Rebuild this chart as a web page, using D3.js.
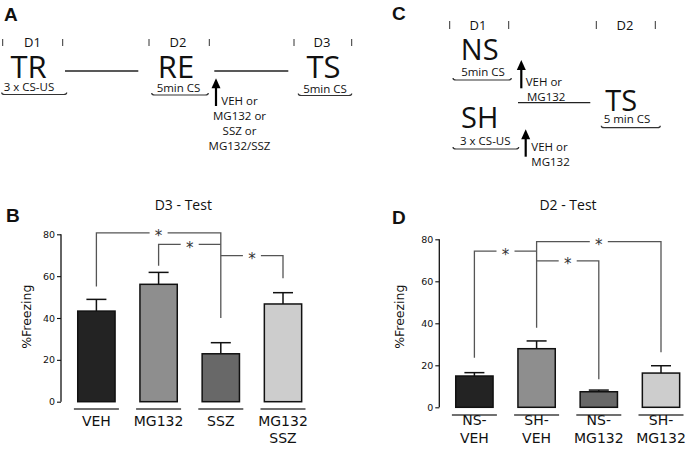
<!DOCTYPE html>
<html><head><meta charset="utf-8">
<script src="https://cdn.jsdelivr.net/npm/d3@7"></script>
<style>body{margin:0;background:#fff}svg{display:block}</style>
</head><body>
<svg id="c" width="686" height="450"></svg>
<script>
// ---------- data ----------
const catsB = ["VEH", "MG132", "SSZ", "MG132/SSZ"];
const labelsB = [["VEH"], ["MG132"], ["SSZ"], ["MG132", "SSZ"]];
const meansB = [43.3, 56.1, 22.9, 46.7];
const semB = [5.6, 5.7, 5.3, 5.4];
const fillsB = ["#232323", "#8e8e8e", "#686868", "#cdcdcd"];
const sigB = [
  {from: 0, to: 2, level: 80.7, fromEnd: 55, toEnd: 40},
  {from: 1, to: 2, level: 75.2, fromEnd: 65, toEnd: 75.2},
  {from: 2, to: 3, level: 69.8, fromEnd: 69.8, toEnd: 59}
];

const catsD = ["NS-VEH", "SH-VEH", "NS-MG132", "SH-MG132"];
const labelsD = [["NS-", "VEH"], ["SH-", "VEH"], ["NS-", "MG132"], ["SH-", "MG132"]];
const meansD = [14.9, 27.9, 7.4, 16.3];
const semD = [1.6, 3.7, 0.8, 3.5];
const fillsD = ["#232323", "#8e8e8e", "#686868", "#cdcdcd"];
const sigD = [
  {from: 0, to: 1, level: 74.4, fromEnd: 23.6, toEnd: 74.4},
  {from: 1, to: 3, level: 78.9, fromEnd: 37.9, toEnd: 26.2},
  {from: 1, to: 2, level: 69.7, fromEnd: 69.7, toEnd: 13.3}
];
const yTicks = [0, 20, 40, 60, 80];

// ---------- drawing ----------
const svg = d3.select("#c");
const DIA = "'Open Sans', 'DejaVu Sans', sans-serif";
const CH = "'DejaVu Sans', sans-serif";

function txt(g, x, y, s, size, anchor, font, weight) {
  return g.append("text").attr("x", x).attr("y", y).attr("dy", "0.36em")
    .attr("text-anchor", anchor || "middle").attr("font-family", font || DIA)
    .attr("font-size", size).attr("font-weight", weight || "normal")
    .attr("fill", "#111").text(s);
}
function hline(g, x1, x2, y, w, c) {
  g.append("line").attr("x1", x1).attr("x2", x2).attr("y1", y).attr("y2", y)
    .attr("stroke", c || "#222").attr("stroke-width", w || 1.2);
}
function tick(g, x, y1, y2) {
  g.append("line").attr("x1", x).attr("x2", x).attr("y1", y1).attr("y2", y2)
    .attr("stroke", "#333").attr("stroke-width", 1);
}
function underline(g, x1, x2, y) {
  g.append("path").attr("d", `M${x1},${y-2} Q${x1},${y} ${x1+3},${y} L${x2-3},${y} Q${x2},${y} ${x2},${y-2}`)
    .attr("fill", "none").attr("stroke", "#333").attr("stroke-width", 1.2);
}
function arrow(g, x, yTip, yBot) {
  g.append("line").attr("x1", x).attr("x2", x).attr("y1", yTip + 8).attr("y2", yBot)
    .attr("stroke", "#000").attr("stroke-width", 2.2);
  g.append("path").attr("d", `M${x},${yTip} L${x-4.5},${yTip+10} L${x+4.5},${yTip+10} Z`).attr("fill", "#000");
}
function panelLetter(x, y, s) {
  svg.append("text").attr("x", x).attr("y", y).attr("font-family", "'Liberation Sans', Arial, sans-serif")
    .attr("font-weight", "bold").attr("font-size", 19).attr("fill", "#111").text(s);
}

// ---- Panel A ----
panelLetter(4, 21, "A");
const gA = svg.append("g");
[2.7, 62.7, 149, 209.3, 294, 351.7].forEach(x => tick(gA, x, 39, 46));
txt(gA, 32.5, 42.5, "D1", 13);
txt(gA, 178, 42.5, "D2", 13);
txt(gA, 322, 42.5, "D3", 13);
txt(gA, 28.5, 66.5, "TR", 31);
txt(gA, 176, 66.5, "RE", 31);
txt(gA, 323.5, 66.5, "TS", 31);
hline(gA, 65, 138.3, 71, 1.3);
hline(gA, 214.3, 288.3, 71, 1.3);
txt(gA, 29, 87, "3 x CS-US", 11.5);
txt(gA, 178.5, 87.5, "5min CS", 11.5);
txt(gA, 325, 88.5, "5min CS", 11.5);
underline(gA, 1.7, 66.7, 94.5);
underline(gA, 151.7, 208.3, 95);
underline(gA, 298.3, 351.7, 95.5);
arrow(gA, 216, 78.3, 106);
["VEH or", "MG132 or", "SSZ or", "MG132/SSZ"].forEach((s, i) => txt(gA, 239.5, 101.3 + i * 14.9, s, 11.5));

// ---- Panel C ----
panelLetter(392, 20, "C");
const gC = svg.append("g");
[449.7, 508.7, 596.3, 655.3].forEach(x => tick(gC, x, 21, 29));
txt(gC, 478, 25, "D1", 13);
txt(gC, 625, 25, "D2", 13);
txt(gC, 479.7, 49.7, "NS", 29);
txt(gC, 483, 71.7, "5min CS", 11.5);
underline(gC, 453, 511.3, 80);
arrow(gC, 521.3, 60, 88.3);
txt(gC, 525.7, 81.7, "VEH or", 11.5, "start");
txt(gC, 527, 97.3, "MG132", 11.5, "start");
hline(gC, 518, 590.3, 102.7, 1.3);
txt(gC, 621.3, 101, "TS", 29);
txt(gC, 627, 119.3, "5 min CS", 11.5);
underline(gC, 601.3, 660.3, 127.7);
txt(gC, 479.7, 117.8, "SH", 29);
txt(gC, 485.3, 141, "3 x CS-US", 11.5);
underline(gC, 453, 518.7, 149);
arrow(gC, 525.7, 129.3, 156.7);
txt(gC, 531.3, 146.7, "VEH or", 11.5, "start");
txt(gC, 531.3, 162.3, "MG132", 11.5, "start");

// ---- bar panels ----
function barPanel(opt) {
  const g = svg.append("g");
  const y = d3.scaleLinear().domain([0, 80]).range([opt.y0, opt.y80]);
  const x = d3.scaleBand().domain(opt.cats).range(opt.xr).paddingInner(0.4).paddingOuter(0.2);
  const bw = x.bandwidth();
  const cx = c => x(c) + bw / 2;

  // title
  txt(g, opt.titleX, 205, opt.title, 14);
  // y axis
  const ax = g.append("g").attr("transform", `translate(${opt.axisX},0)`)
    .call(d3.axisLeft(y).tickValues(yTicks).tickSize(4).tickPadding(2).tickFormat(d3.format("d")));
  ax.select(".domain").attr("stroke", "#111").attr("stroke-width", 1.3).attr("d", `M0,${y(0)}V${y(80)}`);
  ax.selectAll(".tick line").attr("stroke", "#111").attr("stroke-width", 1.1);
  ax.selectAll(".tick text").attr("font-family", CH).attr("font-size", 9.5).attr("fill", "#111");
  // y label
  g.append("text").attr("transform", `translate(${opt.ylabX},316.7) rotate(-90)`)
    .attr("text-anchor", "middle").attr("dy", "0.36em").attr("font-family", CH)
    .attr("font-size", 12.5).attr("fill", "#111").text("%Freezing");

  // brackets
  opt.sig.forEach(s => {
    const xa = cx(opt.cats[s.from]), xb = cx(opt.cats[s.to]);
    g.append("path").attr("d", `M${xa},${y(s.fromEnd)}V${y(s.level)}H${xb}V${y(s.toEnd)}`)
      .attr("fill", "none").attr("stroke", "#555").attr("stroke-width", 1.3);
  });
  opt.sig.forEach(s => {
    const xa = cx(opt.cats[s.from]), xb = cx(opt.cats[s.to]);
    const xm = (xa + xb) / 2;
    g.append("rect").attr("x", xm - 9).attr("y", y(s.level) - 2).attr("width", 18).attr("height", 4).attr("fill", "#fff");
    g.append("text").attr("x", xm).attr("y", y(s.level)).attr("dy", "0.57em").attr("text-anchor", "middle")
      .attr("font-family", CH).attr("font-size", 15).attr("fill", "#333").text("*");
  });

  // error bars
  opt.cats.forEach((c, i) => {
    const top = y(opt.means[i] + opt.sem[i]);
    g.append("line").attr("x1", cx(c)).attr("x2", cx(c)).attr("y1", y(opt.means[i])).attr("y2", top)
      .attr("stroke", "#111").attr("stroke-width", 1.5);
    g.append("line").attr("x1", cx(c) - 10).attr("x2", cx(c) + 10).attr("y1", top).attr("y2", top)
      .attr("stroke", "#111").attr("stroke-width", 1.5);
  });
  // bars
  g.selectAll("rect.bar").data(opt.cats).join("rect").attr("class", "bar")
    .attr("x", c => x(c)).attr("width", bw)
    .attr("y", (c, i) => y(opt.means[i])).attr("height", (c, i) => y(0) - y(opt.means[i]))
    .attr("fill", (c, i) => opt.fills[i]).attr("stroke", "#111").attr("stroke-width", 1.5);

  // category underlines + labels
  opt.cats.forEach((c, i) => {
    hline(g, cx(c) - 22.5, cx(c) + 22.5, opt.ulY, 1.8, "#707070");
    opt.labels[i].forEach((s, j) => txt(g, cx(c), opt.labY + j * 17.8, s, 14, "middle", CH));
  });
}

panelLetter(6, 222, "B");
barPanel({cats: catsB, labels: labelsB, means: meansB, sem: semB, fills: fillsB, sig: sigB,
  y0: 401.7, y80: 234.3, xr: [65.3, 314.1], axisX: 61, ylabX: 26.7, titleX: 183.3, title: "D3 - Test",
  ulY: 409, labY: 420.5});

panelLetter(392, 223.5, "D");
barPanel({cats: catsD, labels: labelsD, means: meansD, sem: semD, fills: fillsD, sig: sigD,
  y0: 407.3, y80: 239.3, xr: [443.3, 692.1], axisX: 439.3, ylabX: 399, titleX: 568, title: "D2 - Test",
  ulY: 415, labY: 420});
</script>
</body></html>
